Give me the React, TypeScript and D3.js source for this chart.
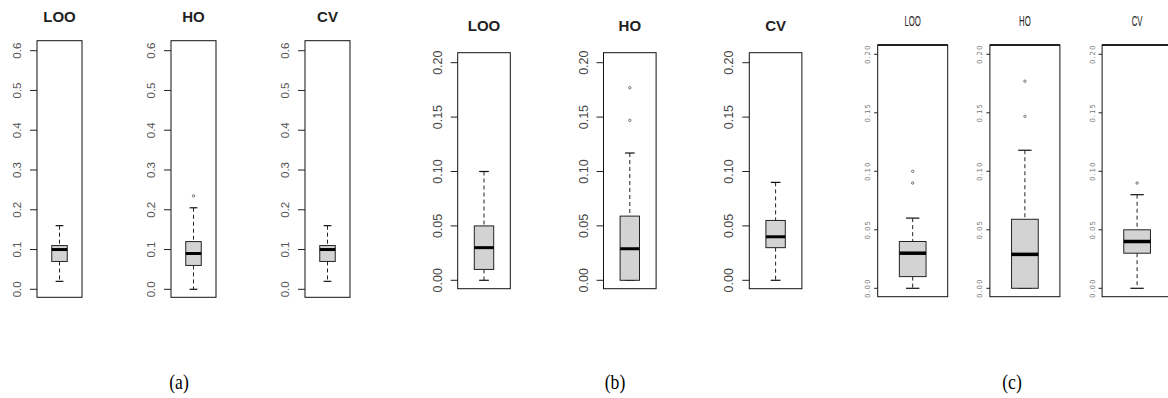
import React from "react"
import { scaleLinear } from "d3"

// data
const methods = ["LOO", "HO", "CV"]
const panelLabels = ["(a)", "(b)", "(c)"]

// [lower whisker, Q1, median, Q3, upper whisker] per method
const statsA = [
  [0.02, 0.07, 0.1, 0.11, 0.16],
  [0.0, 0.06, 0.09, 0.12, 0.205],
  [0.02, 0.07, 0.1, 0.11, 0.16],
]
const outliersA = [[], [0.235], []]
const ticksA = [0, 0.1, 0.2, 0.3, 0.4, 0.5, 0.6]
const tickLabelsA = ["0.0", "0.1", "0.2", "0.3", "0.4", "0.5", "0.6"]

const statsB = [
  [0.0, 0.01, 0.03, 0.05, 0.1],
  [0.0, 0.0, 0.029, 0.059, 0.117],
  [0.0, 0.03, 0.04, 0.055, 0.09],
]
const outliersB = [[], [0.147, 0.177], []]
const ticksB = [0, 0.05, 0.1, 0.15, 0.2]
const tickLabelsB = ["0.00", "0.05", "0.10", "0.15", "0.20"]

const statsC = [
  [0.0, 0.01, 0.03, 0.04, 0.06],
  [0.0, 0.0, 0.029, 0.059, 0.118],
  [0.0, 0.03, 0.04, 0.05, 0.08],
]
const outliersC = [[0.09, 0.1], [0.147, 0.177], [0.09]]
const ticksC = [0, 0.05, 0.1, 0.15, 0.2]
const tickLabelsC = ["0.00", "0.05", "0.10", "0.15", "0.20"]

type Panel = {
  stats: number[][]
  outliers: number[][]
  ticks: number[]
  tickLabels: string[]
  label: string
  // layout
  firstCenter: number
  step: number
  frameW: number
  boxW: number
  frameTop: number
  frameBottom: number
  zeroY: number
  topTick: number
  topTickY: number
  titleY: number
  labelX: number
  tickLen: number
  tickLabelOffset: number
  tickFont: string
  tickSize: number
  tickColor: string
  tickSpacing: number
  titleStyle: "bold" | "narrow"
  medianW: number
}

const panels: Panel[] = [
  {
    stats: statsA, outliers: outliersA, ticks: ticksA, tickLabels: tickLabelsA, label: panelLabels[0],
    firstCenter: 59.5, step: 134, frameW: 45, boxW: 15.5, frameTop: 40.7, frameBottom: 297.3,
    zeroY: 289.3, topTick: 0.6, topTickY: 50.7, titleY: 21.5, labelX: 179,
    tickLen: 7, tickLabelOffset: 16.5, tickFont: "Liberation Sans, Arial, sans-serif", tickSize: 11.5,
    tickColor: "#555", tickSpacing: 0, titleStyle: "bold", medianW: 3,
  },
  {
    stats: statsB, outliers: outliersB, ticks: ticksB, tickLabels: tickLabelsB, label: panelLabels[1],
    firstCenter: 484, step: 145.8, frameW: 52.6, boxW: 19.4, frameTop: 52.7, frameBottom: 288.7,
    zeroY: 280.3, topTick: 0.2, topTickY: 62.7, titleY: 31, labelX: 615,
    tickLen: 7, tickLabelOffset: 16, tickFont: "Liberation Sans, Arial, sans-serif", tickSize: 12.5,
    tickColor: "#444", tickSpacing: 0, titleStyle: "bold", medianW: 3,
  },
  {
    stats: statsC, outliers: outliersC, ticks: ticksC, tickLabels: tickLabelsC, label: panelLabels[2],
    firstCenter: 912.7, step: 112.2, frameW: 70, boxW: 26.7, frameTop: 45, frameBottom: 296.7,
    zeroY: 288.3, topTick: 0.2, topTickY: 54.3, titleY: 26, labelX: 1012,
    tickLen: 3.5, tickLabelOffset: 7.5, tickFont: "DejaVu Sans, sans-serif", tickSize: 7,
    tickColor: "#777", tickSpacing: 1, titleStyle: "narrow", medianW: 3.5,
  },
]

const BoxPanel = ({ p }: { p: Panel }) => {
  const y = scaleLinear().domain([0, p.topTick]).range([p.zeroY, p.topTickY])
  const x = scaleLinear().domain([0, 1]).range([p.firstCenter, p.firstCenter + p.step])

  return (
    <g>
      {methods.map((m, i) => {
        const cx = x(i)
        const left = cx - p.frameW / 2
        const [lo, q1, med, q3, hi] = p.stats[i]
        const half = p.boxW / 2
        const cap = p.boxW / 4
        return (
          <g key={m}>
            {/* title */}
            {p.titleStyle === "bold" ? (
              <text x={cx} y={p.titleY} textAnchor="middle" fontFamily="Liberation Sans, Arial, sans-serif"
                fontWeight="bold" fontSize={15} fill="#222">{m}</text>
            ) : (
              <text transform={`translate(${cx},${p.titleY}) scale(0.52,1)`} textAnchor="middle"
                fontFamily="Liberation Sans, Arial, sans-serif" fontSize={15} fill="#222">{m}</text>
            )}

            {/* frame */}
            <rect x={left} y={p.frameTop} width={p.frameW} height={p.frameBottom - p.frameTop}
              fill="white" stroke="#111" strokeWidth={1} />
            {p.titleStyle === "narrow" && (
              <line x1={left} x2={left + p.frameW} y1={p.frameTop} y2={p.frameTop} stroke="#000" strokeWidth={1.6} />
            )}

            {/* y ticks */}
            {p.ticks.map((t, k) => (
              <g key={k}>
                <line x1={left - p.tickLen} x2={left} y1={y(t)} y2={y(t)} stroke="#222" strokeWidth={1} />
                <text transform={`translate(${left - p.tickLabelOffset},${y(t)}) rotate(-90)`}
                  textAnchor="middle" fontFamily={p.tickFont} fontSize={p.tickSize} fill={p.tickColor}
                  letterSpacing={p.tickSpacing}>{p.tickLabels[k]}</text>
              </g>
            ))}

            {/* whiskers */}
            <line x1={cx} x2={cx} y1={y(hi)} y2={y(q3)} stroke="#222" strokeWidth={1} strokeDasharray="4,3" />
            <line x1={cx} x2={cx} y1={y(q1)} y2={y(lo)} stroke="#222" strokeWidth={1} strokeDasharray="4,3" />
            <line x1={cx - cap} x2={cx + cap} y1={y(hi)} y2={y(hi)} stroke="#111" strokeWidth={1.2} />
            <line x1={cx - cap} x2={cx + cap} y1={y(lo)} y2={y(lo)} stroke="#111" strokeWidth={1.2} />

            {/* box */}
            <rect x={cx - half} y={y(q3)} width={p.boxW} height={y(q1) - y(q3)}
              fill="#d3d3d3" stroke="#222" strokeWidth={1} />
            <line x1={cx - half} x2={cx + half} y1={y(med)} y2={y(med)} stroke="#000" strokeWidth={p.medianW} />

            {/* outliers */}
            {p.outliers[i].map((o, k) => (
              <circle key={k} cx={cx} cy={y(o)} r={1.2} fill="none" stroke="#666" strokeWidth={0.9} />
            ))}
          </g>
        )
      })}
      <text transform={`translate(${p.labelX},389) scale(0.8,1)`} textAnchor="middle"
        fontFamily="Liberation Serif, Times New Roman, serif" fontSize={22} fill="#000">{p.label}</text>
    </g>
  )
}

const App = () => {
  return (
    <svg width={1168} height={398} style={{ position: "absolute", left: 0, top: 0, background: "white" }}>
      <rect width={1168} height={398} fill="white" />
      {panels.map((p) => (
        <BoxPanel key={p.label} p={p} />
      ))}
    </svg>
  )
}

export default App
